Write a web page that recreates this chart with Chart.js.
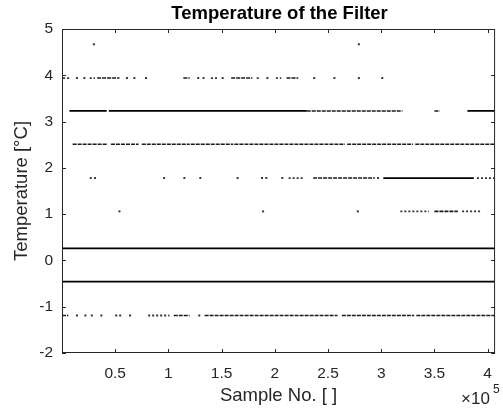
<!DOCTYPE html>
<html>
<head>
<meta charset="utf-8">
<script src="https://cdn.jsdelivr.net/npm/chart.js@4/dist/chart.umd.min.js"></script>
<style>
  html, body { margin: 0; padding: 0; background: #fff; }
  #wrap { width: 503px; height: 408px; }
</style>
</head>
<body>
<div id="wrap"><canvas id="tempChart" width="503" height="408"></canvas></div>
<script>
// sample numbers are in units of 1e5, temperatures in °C
// [temperature, first sample, last sample]
const solidRuns = [
    [3.23, 0.07, 0.42], [3.23, 0.44, 2.30], [3.23, 3.81, 4.07],
    [1.78, 3.02, 3.87],
    [0.26, 0.00, 4.07],
    [-0.46, 0.00, 4.07],
];
const brokenRuns = [
    [3.94, 0.33, 0.54], [3.94, 1.14, 1.20], [3.94, 1.59, 1.79], [3.94, 2.11, 2.22],
    [3.23, 2.30, 3.20], [3.23, 3.50, 3.55],
    [2.51, 0.10, 0.43], [2.51, 0.46, 0.72], [2.51, 0.75, 1.20], [2.51, 1.21, 1.61],
    [2.51, 1.62, 2.66], [2.51, 2.68, 3.30], [2.51, 3.32, 4.07],
    [1.78, 2.36, 2.94],
    [1.06, 3.50, 3.72],
    [-1.19, 0.00, 0.06], [-1.19, 1.05, 1.20], [-1.19, 1.34, 2.59],
    [-1.19, 2.63, 3.31], [-1.19, 3.33, 4.07],
];
const sparseRuns = [
    [3.94, 0.01, 0.07], [3.94, 0.26, 0.31], [3.94, 1.40, 1.46],
    [3.94, 1.83, 1.86], [3.94, 2.01, 2.06],
    [1.78, 2.13, 2.28], [1.78, 3.90, 4.07],
    [1.06, 3.18, 3.45], [1.06, 3.76, 3.94],
    [-1.19, 0.50, 0.56], [-1.19, 0.63, 0.66], [-1.19, 0.81, 1.01],
];
// [temperature, sample]
const singleDots = [
    [4.67, 0.00], [4.67, 0.30], [4.67, 2.79],
    [3.94, 0.14], [3.94, 0.21], [3.94, 0.61], [3.94, 0.68], [3.94, 0.79],
    [3.94, 1.28], [3.94, 1.33], [3.94, 1.51], [3.94, 1.93], [3.94, 2.37],
    [3.94, 2.56], [3.94, 2.79], [3.94, 3.01],
    [1.78, 0.27], [1.78, 0.31], [1.78, 0.96], [1.78, 1.15], [1.78, 1.30],
    [1.78, 1.65], [1.78, 1.88], [1.78, 1.92], [1.78, 2.07], [1.78, 2.97],
    [1.06, 0.54], [1.06, 1.89], [1.06, 2.78],
    [-1.19, 0.14], [-1.19, 0.22], [-1.19, 0.28], [-1.19, 0.37], [-1.19, 1.29],
];
const xTicks = [0.5, 1, 1.5, 2, 2.5, 3, 3.5, 4];
const yTicks = [-2, -1, 0, 1, 2, 3, 4, 5];

const axisColor = "#262626";

// turn [t, a, b] runs into one line with gaps between the runs
function runsToPoints(runs) {
    return runs.flatMap(([t, a, b]) => [
        { x: a, y: t },
        { x: b, y: t },
        { x: b, y: NaN },
    ]);
}

// box round the axes with inward ticks, like matlab
const boxPlugin = {
    id: "boxPlugin",
    afterDraw(chart) {
        const { ctx, chartArea: ca, scales } = chart;
        const len = 4;
        ctx.save();
        ctx.strokeStyle = axisColor;
        ctx.lineWidth = 1;
        ctx.strokeRect(ca.left + 0.5, ca.top + 0.5, ca.right - ca.left - 1, ca.bottom - ca.top - 1);
        ctx.beginPath();
        xTicks.forEach((v) => {
            const px = Math.round(scales.x.getPixelForValue(v)) + 0.5;
            ctx.moveTo(px, ca.bottom);
            ctx.lineTo(px, ca.bottom - len);
            ctx.moveTo(px, ca.top);
            ctx.lineTo(px, ca.top + len);
        });
        yTicks.forEach((v) => {
            const py = Math.round(scales.y.getPixelForValue(v)) + 0.5;
            ctx.moveTo(ca.left, py);
            ctx.lineTo(ca.left + len, py);
            ctx.moveTo(ca.right, py);
            ctx.lineTo(ca.right - len, py);
        });
        ctx.stroke();

        // title centred over the axes
        ctx.fillStyle = "#000";
        ctx.font = "bold 18.5px 'Liberation Sans', Arial, sans-serif";
        ctx.textAlign = "center";
        ctx.textBaseline = "middle";
        ctx.fillText("Temperature of the Filter", (ca.left + ca.right) / 2 + 1, 14);

        // exponent label
        ctx.fillStyle = axisColor;
        ctx.textAlign = "left";
        ctx.font = "17px 'Liberation Sans', Arial, sans-serif";
        ctx.fillText("\u00d710", 461, 399);
        ctx.font = "12px 'Liberation Sans', Arial, sans-serif";
        ctx.fillText("5", 493, 390);
        ctx.restore();
    },
};

const tickFont = { family: "'Liberation Sans', Arial, sans-serif", size: 15.5 };
const labelFont = { family: "'Liberation Sans', Arial, sans-serif", size: 18.5 };

new Chart(document.getElementById("tempChart"), {
    type: "scatter",
    data: {
        datasets: [
            {
                data: runsToPoints(solidRuns),
                showLine: true,
                borderColor: "#000",
                borderWidth: 1.8,
                pointRadius: 0,
            },
            {
                data: runsToPoints(brokenRuns),
                showLine: true,
                borderColor: "#1a1a1a",
                borderWidth: 1.6,
                borderDash: [4, 1],
                pointRadius: 0,
            },
            {
                data: runsToPoints(sparseRuns),
                showLine: true,
                borderColor: "#333",
                borderWidth: 1.8,
                borderDash: [2, 2],
                pointRadius: 0,
            },
            {
                data: singleDots.map(([t, x]) => ({ x: x, y: t })),
                showLine: false,
                pointStyle: "rect",
                pointRadius: 1.4,
                borderWidth: 0,
                backgroundColor: "#333",
            },
        ],
    },
    options: {
        responsive: false,
        animation: false,
        layout: { padding: { top: 29, right: 1, left: 0, bottom: 0 } },
        plugins: {
            legend: { display: false },
            tooltip: { enabled: false },
        },
        scales: {
            x: {
                type: "linear",
                min: 0,
                max: 4.07,
                grid: { display: false, drawTicks: false },
                border: { display: false },
                ticks: {
                    font: tickFont,
                    color: axisColor,
                    padding: 11,
                    maxRotation: 0,
                    callback: (v) => String(v),
                },
                afterBuildTicks: (scale) => {
                    scale.ticks = xTicks.map((v) => ({ value: v }));
                },
                afterFit: (scale) => {
                    scale.height = 55;
                },
                title: {
                    display: true,
                    text: "Sample No. [ ]",
                    font: labelFont,
                    color: axisColor,
                    padding: { top: 0, bottom: 1 },
                },
            },
            y: {
                type: "linear",
                min: -2,
                max: 5,
                grid: { display: false, drawTicks: false },
                border: { display: false },
                ticks: {
                    font: tickFont,
                    color: axisColor,
                    padding: 9,
                    callback: (v) => String(v),
                },
                afterBuildTicks: (scale) => {
                    scale.ticks = yTicks.map((v) => ({ value: v }));
                },
                afterFit: (scale) => {
                    scale.width = 62;
                },
                title: {
                    display: true,
                    text: "Temperature [\u00b0C]",
                    font: labelFont,
                    color: axisColor,
                    padding: { top: 11, bottom: 0 },
                },
            },
        },
    },
    plugins: [boxPlugin],
});
</script>
</body>
</html>
